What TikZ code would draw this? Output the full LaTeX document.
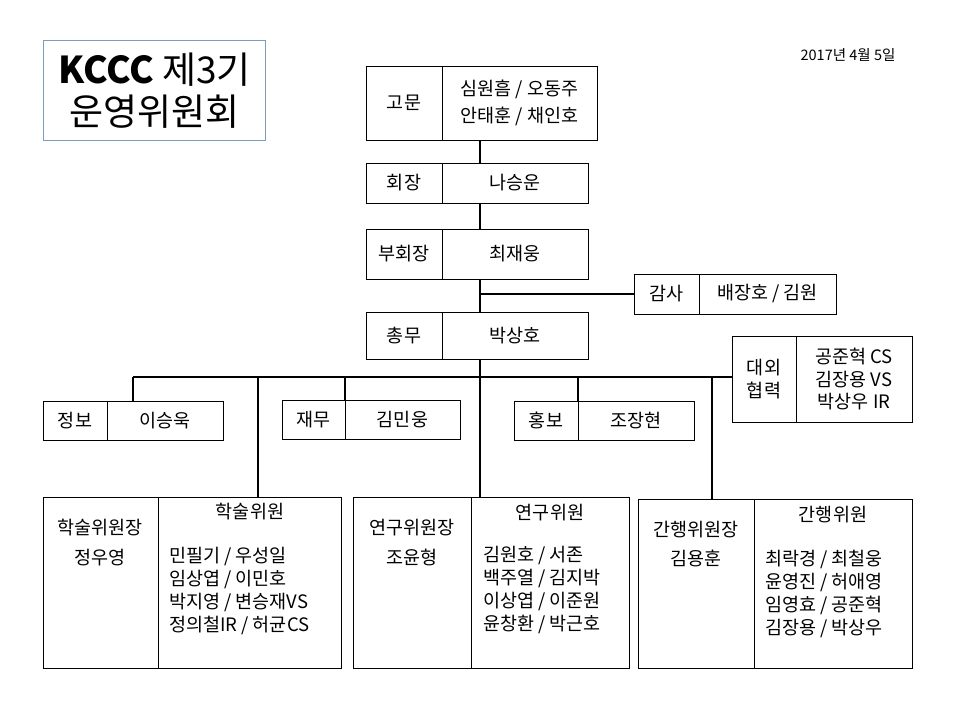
\documentclass[tikz,border=0pt]{standalone}
\usepackage{fontspec}
\newfontfamily\kr{Noto Sans CJK KR}
\definecolor{titleblue}{RGB}{122,156,190}
\begin{document}
\begin{tikzpicture}[x=1pt,y=-1pt,
    cell/.style={draw, line width=1pt, anchor=north west, inner sep=0pt, outer sep=0pt,
      align=center, font=\kr\fontsize{18.5}{22.5}\selectfont},
    txt/.style={inner sep=0pt, align=center, font=\kr\fontsize{18.5}{22.7}\selectfont},
    conn/.style={line width=2pt}]
    \useasboundingbox (0,0) rectangle (960,720);

    \node[draw=titleblue, line width=1pt, anchor=north west, minimum width=222, minimum height=100,
      align=center, font=\kr\fontsize{37}{42}\selectfont] (title) at (43,40)
      {\textbf{KCCC} 제3기\\운영위원회};
    \node[font=\kr\fontsize{14.5}{17}\selectfont] (date) at (848,55) {2017년 4월 5일};

    %%top
    \node[cell, minimum width=76, minimum height=74] (gomunL) at (366,66) {고문};
    \node[cell, minimum width=155, minimum height=74, font=\kr\fontsize{18.5}{26.5}\selectfont]
      (gomunR) at (gomunL.north east) {심원흠 / 오동주\\안태훈 / 채인호};
    \node[cell, minimum width=76, minimum height=40] (hoejangL) at (366,163) {회장};
    \node[cell, minimum width=146, minimum height=40] (hoejangR) at (hoejangL.north east) {나승운};
    \node[cell, minimum width=76, minimum height=50] (buL) at (366,229) {부회장};
    \node[cell, minimum width=146, minimum height=50] (buR) at (buL.north east) {최재웅};
    \node[cell, minimum width=65, minimum height=40] (gamsaL) at (634,274) {감사};
    \node[cell, minimum width=137, minimum height=40] (gamsaR) at (gamsaL.north east) {배장호 / 김원};
    \node[cell, minimum width=76, minimum height=47] (chongmuL) at (366,312) {총무};
    \node[cell, minimum width=146, minimum height=47] (chongmuR) at (chongmuL.north east) {박상호};

    %%middle
    \node[cell, minimum width=64, minimum height=86] (daeoeL) at (732,336) {대외\\협력};
    \node[cell, minimum width=116, minimum height=86] (daeoeR) at (daeoeL.north east)
      {공준혁 CS\\김장용 VS\\박상우 IR};
    \node[cell, minimum width=64, minimum height=39] (jeongboL) at (43,401) {정보};
    \node[cell, minimum width=116, minimum height=39] (jeongboR) at (jeongboL.north east) {이승욱};
    \node[cell, minimum width=63, minimum height=39] (jaemuL) at (282,400) {재무};
    \node[cell, minimum width=115, minimum height=39] (jaemuR) at (jaemuL.north east) {김민웅};
    \node[cell, minimum width=64, minimum height=39] (hongboL) at (514,401) {홍보};
    \node[cell, minimum width=116, minimum height=39] (hongboR) at (hongboL.north east) {조장현};

    %%bottom
    \node[cell, minimum width=115, minimum height=171] (haksulL) at (43,497) {};
    \node[cell, minimum width=183, minimum height=171] (haksulR) at (haksulL.north east) {};
    \node[cell, minimum width=118, minimum height=171] (yeonguL) at (353,497) {};
    \node[cell, minimum width=158, minimum height=171] (yeonguR) at (yeonguL.north east) {};
    \node[cell, minimum width=116, minimum height=169] (ganhaengL) at (638,499) {};
    \node[cell, minimum width=158, minimum height=169] (ganhaengR) at (ganhaengL.north east) {};

    \node[txt] (haksulChief) at (100,542.5) {학술위원장\\[6.5pt]정우영};
    \node[txt] (haksulHead) at (250,512) {학술위원};
    \node[txt, anchor=west, align=left] (haksulNames) at (169,591)
      {민필기 / 우성일\\임상엽 / 이민호\\박지영 / 변승재VS\\정의철IR / 허균CS};
    \node[txt] (yeonguChief) at (412,542.5) {연구위원장\\[6.5pt]조윤형};
    \node[txt] (yeonguHead) at (550,513) {연구위원};
    \node[txt, anchor=west, align=left] (yeonguNames) at (483,590)
      {김원호 / 서존\\백주열 / 김지박\\이상엽 / 이준원\\윤창환 / 박근호};
    \node[txt] (ganhaengChief) at (696,544) {간행위원장\\[6.5pt]김용훈};
    \node[txt] (ganhaengHead) at (833,515) {간행위원};
    \node[txt, anchor=west, align=left] (ganhaengNames) at (765,594)
      {최락경 / 최철웅\\윤영진 / 허애영\\임영효 / 공준혁\\김장용 / 박상우};

    %%lines
    \coordinate (spine) at (480,0);
    \draw[conn] (gomunR.south -| spine) to (hoejangR.north -| spine);
    \draw[conn] (hoejangR.south -| spine) to (buR.north -| spine);
    \draw[conn] (buR.south -| spine) to (chongmuR.north -| spine);
    \draw[conn] (gamsaL.west -| spine) to (gamsaL.west);
    \draw[conn] (chongmuR.south -| spine) to (yeonguR.north -| spine);

    \coordinate (busL) at (133,377);
    \coordinate (haksulDrop) at (258,377);
    \coordinate (ganhaengDrop) at (712,377);
    \draw[conn] (busL) to (busL -| daeoeL.west);
    \draw[conn] (busL) to (busL |- jeongboR.north);
    \draw[conn] (haksulDrop) to (haksulDrop |- haksulR.north);
    \draw[conn] (jaemuL.north east |- busL) to (jaemuL.north east);
    \draw[conn] (hongboL.north east |- busL) to (hongboL.north east);
    \draw[conn] (ganhaengDrop) to (ganhaengDrop |- ganhaengL.north);
\end{tikzpicture}
\end{document}
